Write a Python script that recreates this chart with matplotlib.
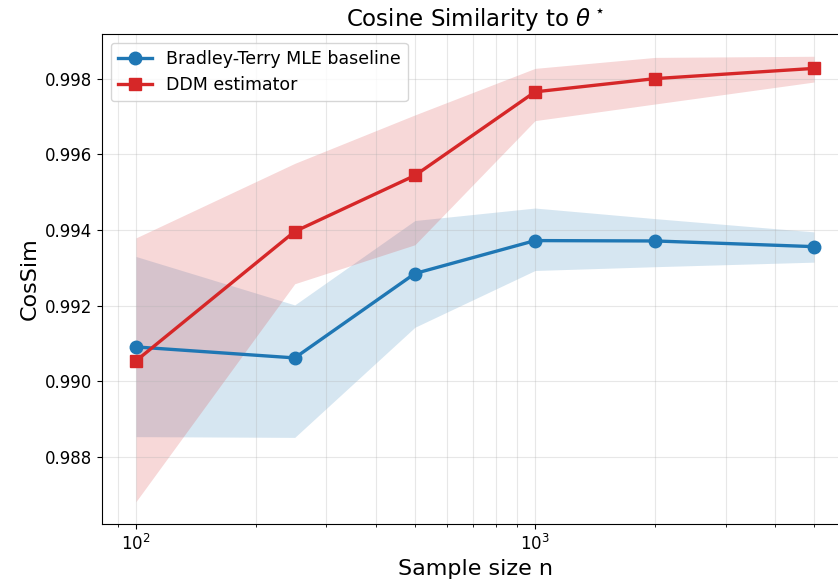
import matplotlib.pyplot as plt
import numpy as np

n = [100, 250, 500, 1000, 2000, 5000]

bt_mean = [0.99091, 0.99062, 0.99285, 0.99372, 0.99371, 0.99356]
bt_low = [0.98854, 0.98852, 0.99143, 0.99293, 0.99303, 0.99315]
bt_high = [0.99330, 0.99202, 0.99425, 0.99458, 0.99430, 0.99395]

ddm_mean = [0.99054, 0.99396, 0.99544, 0.99765, 0.99800, 0.99827]
ddm_low = [0.98682, 0.99258, 0.99361, 0.99689, 0.99733, 0.99791]
ddm_high = [0.99379, 0.99576, 0.99704, 0.99827, 0.99856, 0.99859]

fig = plt.figure(figsize=(8.38, 5.86), dpi=100)
ax = fig.add_axes([102 / 838, 62 / 586, 746 / 838, 490 / 586])

ax.plot(n, bt_mean, marker="o", color="tab:blue", lw=2.4, ms=9,
        label="Bradley-Terry MLE baseline")
ax.fill_between(n, bt_low, bt_high, color="tab:blue", alpha=0.18, lw=0)
ax.plot(n, ddm_mean, marker="s", color="tab:red", lw=2.4, ms=9,
        label="DDM estimator")
ax.fill_between(n, ddm_low, ddm_high, color="tab:red", alpha=0.18, lw=0)

ax.set_xscale("log")
ax.grid(True, which="both", alpha=0.3)
ax.tick_params(labelsize=12)
ax.set_xlabel("Sample size n", fontsize=16)
ax.set_ylabel("CosSim", fontsize=16)
ax.set_title(r"Cosine Similarity to $\theta^\star$", fontsize=16.5)
ax.legend(loc="upper left", fontsize=12.5)

fig.savefig("out.png", dpi=100)
